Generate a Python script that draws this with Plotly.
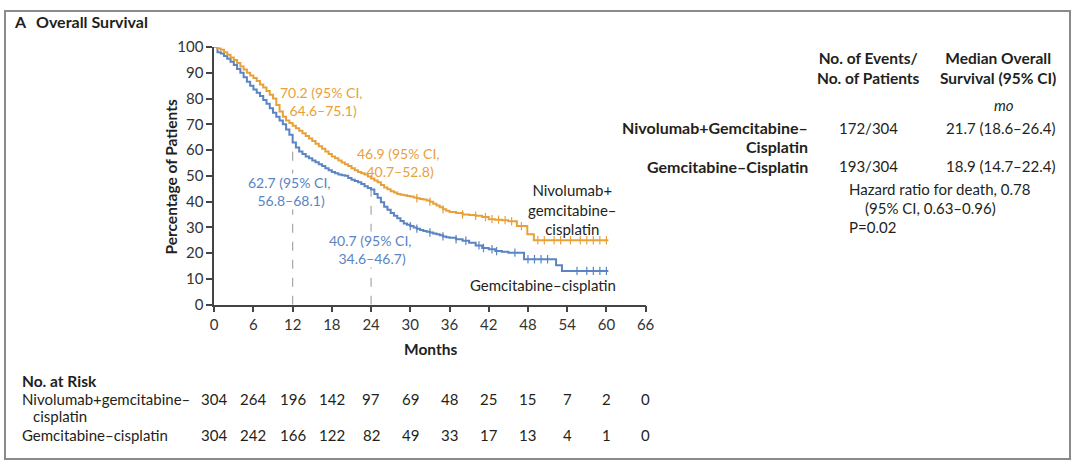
import plotly.graph_objects as go

W, H = 1080, 468
# The returned picture maps figure pixel d to about O + s*d; positions below are given in
# target-picture pixels and converted through that mapping.
SX, SY, OX, OY = 0.987, 0.9669, 4.0, 7.7

# ---------------- data ----------------
nivo_t = [0, 0.5, 1, 1.5, 2, 2.5, 3, 3.5, 4, 4.5, 5, 5.5, 6, 6.5, 7, 7.5, 8, 8.5, 9, 9.5,
          10, 10.5, 11, 11.5, 12, 12.5, 13, 13.5, 14, 14.5, 15, 15.5, 16, 16.5, 17, 17.5,
          18, 18.5, 19, 19.5, 20, 20.5, 21, 21.5, 22, 22.5, 23, 23.5, 24, 24.5, 25, 25.5,
          26, 26.5, 27, 27.5, 28, 28.5, 29, 29.5, 30, 30.5, 31, 31.5, 32, 32.5, 33, 33.5,
          34, 34.5, 35, 35.5, 36, 37, 38, 39, 40, 41, 42, 43, 44, 45, 46.3, 47.9, 48.9, 60.3]
nivo_s = [100, 99.5, 99, 98, 97, 96, 95, 93.8, 92.5, 91.3, 90, 89, 88, 86.8, 85.5, 84.3,
          83, 81.5, 80, 77.5, 75, 73, 71.5, 70.5, 69.5, 68.5, 67.5, 66.5, 65.5, 64.5, 63.5,
          62.5, 61.5, 60.5, 59.5, 58.5, 57.5, 56.8, 56, 55.2, 54.5, 53.8, 53, 52.2, 51.5,
          51, 50.5, 49.8, 49, 48.2, 47.5, 46.5, 45.5, 44.8, 44, 43.5, 43, 42.7, 42.5, 42.2,
          42, 41.6, 41.3, 41, 40.8, 40.4, 40, 39.2, 38.5, 37.8, 37, 36.5, 36, 35.6, 35,
          34.8, 34.5, 34, 33.2, 33, 32.8, 32.4, 30.5, 27.3, 25, 25]
gem_t = [0, 0.5, 1, 1.5, 2, 2.5, 3, 3.5, 4, 4.5, 5, 5.5, 6, 6.5, 7, 7.5, 8, 8.5, 9, 9.5,
         10, 10.5, 11, 11.5, 12, 12.5, 13, 13.5, 14, 14.5, 15, 15.5, 16, 16.5, 17, 17.5,
         18, 18.5, 19, 19.5, 20, 20.5, 21, 21.5, 22, 22.5, 23, 23.5, 24, 24.5, 25, 25.5,
         26, 26.5, 27, 27.5, 28, 28.5, 29, 29.5, 30, 30.5, 31, 31.5, 32, 32.5, 33, 33.5,
         34, 34.5, 35, 35.5, 36, 37, 38, 39, 40, 41, 42, 43, 44, 45, 47.4, 52.3, 53.2, 60.3]
gem_s = [100, 98, 97.5, 96.5, 95.5, 94.3, 93, 91.5, 90, 88.3, 86.5, 85, 83.5, 82.3, 81,
         79.5, 78, 76.3, 74.5, 73, 71.5, 70, 68, 66, 63, 61, 59.5, 58.5, 57.5, 56.8, 56,
         55.3, 54.5, 53.8, 53, 52.2, 51.5, 51, 50.5, 50.2, 50, 49.2, 48.5, 48, 47.5, 46.8,
         46, 45.3, 44.7, 43, 41.5, 39.8, 38, 36.8, 35.6, 34.5, 33.5, 32.5, 31.5, 31, 30.5,
         30, 29.5, 29, 28.6, 28.3, 28, 27.6, 27.3, 26.9, 26.5, 26.2, 26, 25.4, 24.8, 24,
         23, 22, 21.5, 20.8, 20.5, 20.2, 17.6, 15.3, 13.1, 13.1]
nivo_censor = [31, 33, 35, 38, 40, 41.5, 42.5, 43.5, 44.5, 45.5, 47, 49.5, 50.5, 52, 53,
               54.5, 56, 57, 58, 59, 60]
gem_censor = [30, 31, 33, 35, 37, 38.5, 40.5, 41.2, 42.5, 43.2, 46, 48, 49, 50, 51,
              55.5, 57, 58, 59, 60]

months_ticks = list(range(0, 67, 6))
risk_nivo = [304, 264, 196, 142, 97, 69, 48, 25, 15, 7, 2, 0]
risk_gem = [304, 242, 166, 122, 82, 49, 33, 17, 13, 4, 1, 0]

ORANGE = "#E8A13A"
BLUE = "#5A84C3"
TXT = "#231f20"
FONT = "Lato"

def step_at(t, ts, ss):
    v = ss[0]
    for ti, si in zip(ts, ss):
        if ti <= t:
            v = si
    return v

def px(x):
    return min(max((x - OX) / SX, 1), W - 1) / W
def py(y):
    return 1 - min(max((y - OY) / SY, 1), H - 1) / H

X0, X1, Y0, Y1 = 214, 645, 304, 45

fig = go.Figure()
fig.add_trace(go.Scatter(x=gem_t, y=gem_s, mode="lines", line=dict(color=BLUE, width=2, shape="hv"),
                         showlegend=False, hoverinfo="skip"))
fig.add_trace(go.Scatter(x=nivo_t, y=nivo_s, mode="lines", line=dict(color=ORANGE, width=2, shape="hv"),
                         showlegend=False, hoverinfo="skip"))
fig.add_trace(go.Scatter(x=gem_censor, y=[step_at(t, gem_t, gem_s) for t in gem_censor], mode="markers",
                         marker=dict(symbol="line-ns", size=6, line=dict(color=BLUE, width=1.2)),
                         showlegend=False, hoverinfo="skip"))
fig.add_trace(go.Scatter(x=nivo_censor, y=[step_at(t, nivo_t, nivo_s) for t in nivo_censor], mode="markers",
                         marker=dict(symbol="line-ns", size=6, line=dict(color=ORANGE, width=1.2)),
                         showlegend=False, hoverinfo="skip"))

for m in (12, 24):
    fig.add_shape(type="line", xref="x", yref="y", x0=m, x1=m, y0=0, y1=step_at(m, gem_t, gem_s),
                  line=dict(color="#a8a8a8", width=1.2, dash="dash"), layer="below")

fig.update_xaxes(domain=[px(X0), px(X1)], range=[0, 66], tickvals=months_ticks,
                 showline=True, linecolor="#444", linewidth=1.5, ticks="outside", ticklen=6,
                 tickcolor="#444", tickwidth=1.5, showgrid=False, zeroline=False,
                 tickfont=dict(family=FONT, size=15, color="#333"))
fig.update_yaxes(domain=[py(Y0), py(Y1)], range=[0, 100], tickvals=list(range(0, 101, 10)),
                 showline=True, linecolor="#444", linewidth=1.5, ticks="outside", ticklen=6,
                 tickcolor="#444", tickwidth=1.5, showgrid=False, zeroline=False,
                 tickfont=dict(family=FONT, size=15, color="#333"))

ann = []
def T(x, y, text, size=15, color=TXT, xanchor="left", bold=False, align="left", **kw):
    if bold:
        text = "<b>" + text + "</b>"
    ann.append(dict(x=px(x), y=py(y), xref="paper", yref="paper", text=text, showarrow=False,
                    xanchor=xanchor, yanchor="middle", align=align,
                    font=dict(family=FONT, size=size, color=color), **kw))

T(12, 19, "A", size=16, bold=True)
T(34, 19, "Overall Survival", size=16, bold=True)
ann.append(dict(x=px(160), y=py(175), xref="paper", yref="paper", text="<b>Percentage of Patients</b>",
                showarrow=False, textangle=-90, font=dict(family=FONT, size=15.5, color=TXT)))
T(430, 349, "Months", size=15.5, bold=True, xanchor="center")

T(321, 100, "70.2 (95% CI,<br> 64.6–75.1)", size=14, color=ORANGE, xanchor="center", align="center")
T(398, 161, "46.9 (95% CI,<br> 40.7–52.8)", size=14, color=ORANGE, xanchor="center", align="center")
T(289, 190, "62.7 (95% CI,<br> 56.8–68.1)", size=14, color=BLUE, xanchor="center", align="center",
  bgcolor="white", borderpad=0)
T(370, 249, "40.7 (95% CI,<br> 34.6–46.7)", size=14, color=BLUE, xanchor="center", align="center",
  bgcolor="white", borderpad=0)
T(572, 208, "Nivolumab+<br>gemcitabine–<br>cisplatin", xanchor="center", align="center")
T(542, 284, "Gemcitabine–cisplatin", xanchor="center")

T(868, 66, "No. of Events/<br>No. of Patients", size=15.5, bold=True, xanchor="center", align="center")
T(997, 66, "Median Overall<br>Survival (95% CI)", size=15.5, bold=True, xanchor="center", align="center")
T(1003, 103, "<i>mo</i>", xanchor="center")
T(809, 126, "Nivolumab+Gemcitabine–", size=16, bold=True, xanchor="right")
T(809, 145, "Cisplatin", size=16, bold=True, xanchor="right")
T(809, 165, "Gemcitabine–Cisplatin", size=16, bold=True, xanchor="right")
T(868, 126, "172/304", xanchor="center")
T(868, 165, "193/304", xanchor="center")
T(1000, 126, "21.7 (18.6–26.4)", xanchor="center")
T(1000, 165, "18.9 (14.7–22.4)", xanchor="center")
T(846, 188, "Hazard ratio for death, 0.78")
T(862, 207, "(95% CI, 0.63–0.96)")
T(846, 226, "P=0.02")

T(20, 381, "No. at Risk", size=15.5, bold=True)
T(20, 399, "Nivolumab+gemcitabine–", size=15)
T(31, 416, "cisplatin", size=15)
T(20, 435, "Gemcitabine–cisplatin", size=15)
for m, a, b in zip(months_ticks, risk_nivo, risk_gem):
    ann.append(dict(x=m, y=py(399), xref="x", yref="paper", text=str(a), showarrow=False,
                    xanchor="center", yanchor="middle", font=dict(family=FONT, size=15, color=TXT)))
    ann.append(dict(x=m, y=py(435), xref="x", yref="paper", text=str(b), showarrow=False,
                    xanchor="center", yanchor="middle", font=dict(family=FONT, size=15, color=TXT)))

fig.add_shape(type="rect", xref="paper", yref="paper", x0=px(2), x1=px(1074), y0=py(462), y1=py(2),
              line=dict(color="#8a8a8a", width=2))

fig.update_layout(width=W, height=H, margin=dict(l=0, r=0, t=0, b=0),
                  paper_bgcolor="white", plot_bgcolor="white", annotations=ann,
                  font=dict(family=FONT, color=TXT))

fig.write_html("out.html")
